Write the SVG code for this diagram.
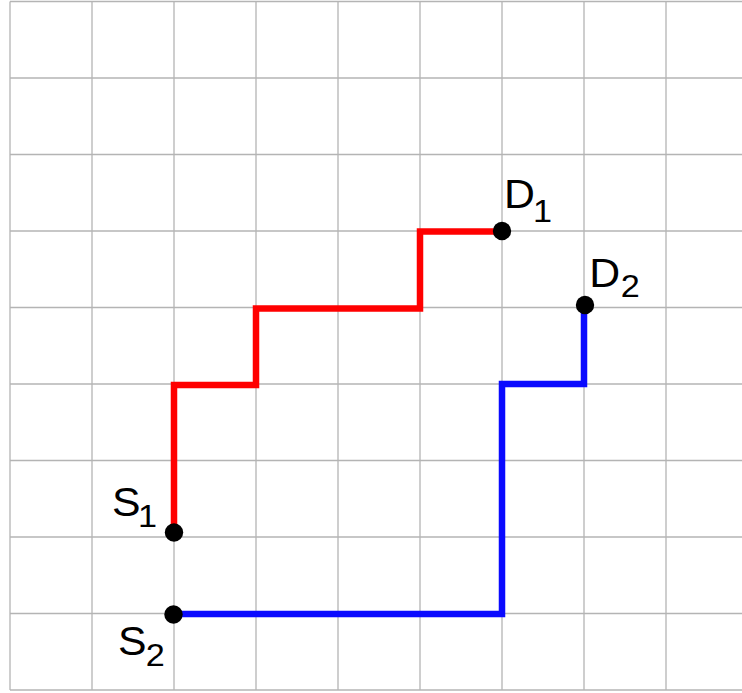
<svg xmlns="http://www.w3.org/2000/svg" width="742" height="693" viewBox="0 0 742 693">
<style>
.grid line{stroke:#b4b4b4;stroke-width:1.3}
.path{fill:none;stroke-width:6.5;stroke-linejoin:miter;stroke-linecap:butt}
.lbl{font-family:"Liberation Sans",Arial,sans-serif;font-size:40px;fill:#000}
.sub{font-size:32px}
.dot{fill:#000}
</style>
<rect width="742" height="693" fill="#fff"/>
<g class="grid" id="grid">
<line x1="10" y1="1.5" x2="10" y2="690"/>
<line x1="92" y1="1.5" x2="92" y2="690"/>
<line x1="174" y1="1.5" x2="174" y2="690"/>
<line x1="256" y1="1.5" x2="256" y2="690"/>
<line x1="338" y1="1.5" x2="338" y2="690"/>
<line x1="420" y1="1.5" x2="420" y2="690"/>
<line x1="502" y1="1.5" x2="502" y2="690"/>
<line x1="584" y1="1.5" x2="584" y2="690"/>
<line x1="666" y1="1.5" x2="666" y2="690"/>
<line x1="10" y1="1.5" x2="742" y2="1.5"/>
<line x1="10" y1="78" x2="742" y2="78"/>
<line x1="10" y1="154.5" x2="742" y2="154.5"/>
<line x1="10" y1="231" x2="742" y2="231"/>
<line x1="10" y1="307.5" x2="742" y2="307.5"/>
<line x1="10" y1="384" x2="742" y2="384"/>
<line x1="10" y1="460.5" x2="742" y2="460.5"/>
<line x1="10" y1="537" x2="742" y2="537"/>
<line x1="10" y1="613.5" x2="742" y2="613.5"/>
<line x1="10" y1="690" x2="742" y2="690"/>
</g>
<g id="connectors">
<polyline class="path" stroke="#ff0000" points="174,532 174,385 256,385 256,308.5 420,308.5 420,231.5 502,231.5"/>
<polyline class="path" stroke="#0a0aff" points="174,614 502,614 502,384 584,384 584,305"/>
</g>
<g id="S1">
<circle class="dot" cx="174" cy="532.5" r="9.2"/>
<text class="lbl" transform="translate(112,516) scale(1.07,1)" x="0" y="0">S<tspan class="sub" x="24.3" y="11">1</tspan></text>
</g>
<g id="S2">
<circle class="dot" cx="173.5" cy="614.5" r="9.2"/>
<text class="lbl" transform="translate(118,654.5) scale(1.07,1)" x="0" y="0">S<tspan class="sub" x="26" y="11.5">2</tspan></text>
</g>
<g id="D1">
<circle class="dot" cx="502" cy="231" r="9.2"/>
<text class="lbl" transform="translate(504,208) scale(1.07,1)" x="0" y="0">D<tspan class="sub" x="27.1" y="14">1</tspan></text>
</g>
<g id="D2">
<circle class="dot" cx="585" cy="305" r="9.2"/>
<text class="lbl" transform="translate(589.3,286.7) scale(1.07,1)" x="0" y="0">D<tspan class="sub" x="29.3" y="10">2</tspan></text>
</g>
</svg>
